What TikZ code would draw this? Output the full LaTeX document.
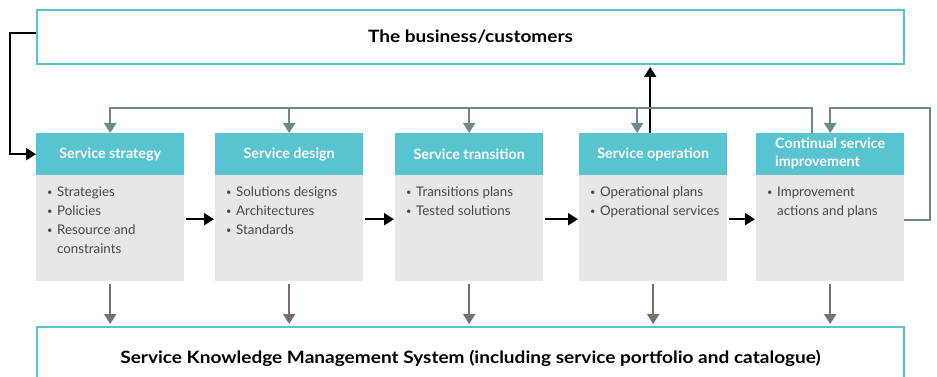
\documentclass[tikz,border=0pt]{standalone}
\usepackage{fontspec}
\setmainfont{Lato}
\usetikzlibrary{arrows.meta}
\definecolor{cyanb}{HTML}{58C4CF}
\definecolor{bodyg}{HTML}{E6E7E9}
\definecolor{fbcol}{HTML}{6F8A84}
\definecolor{dncol}{HTML}{77706A}
\definecolor{txtg}{HTML}{47474A}
\newcommand{\bul}{\makebox[10pt][l]{\raisebox{1pt}{\scalebox{0.7}{\textbullet}}}}
\newcommand{\ind}{\hspace*{10pt}}
\tikzset{
  frame/.style={draw=cyanb, line width=2pt, fill=white, anchor=north west, inner sep=0pt,
    minimum width=867pt, font=\bfseries\fontsize{17}{20}\selectfont\addfontfeature{FakeStretch=1.12}},
  head/.style={fill=cyanb, anchor=north west, minimum width=148pt, minimum height=42pt,
    inner sep=0pt, text=white, align=left, font=\bfseries\fontsize{14.3}{17}\selectfont},
  bodybox/.style={fill=bodyg, anchor=north west, minimum width=148pt, minimum height=106pt, inner sep=0pt},
  item/.style={anchor=north west, inner sep=0pt, align=left, text=txtg,
    font=\fontsize{13.3}{19}\selectfont},
  tip/.style={-{Triangle[length=10pt,width=12pt]}},
  fb/.style={draw=fbcol, line width=2pt},
  blk/.style={draw=black, line width=2pt, tip},
  dn/.style={draw=dncol, line width=2pt, tip},
}
\begin{document}
\begin{tikzpicture}[x=1pt,y=-1pt]
\useasboundingbox (0,0) rectangle (937,377);
\node[frame, minimum height=54pt] (biz) at (36,9) {The business/customers};
\node[frame, minimum height=62pt] (skm) at (36,326) {Service Knowledge Management System (including service portfolio and catalogue)};

\foreach \i/\x in {1/36,2/215,3/395,4/579,5/756}{
  \node[bodybox] (b\i) at (\x,175) {};
}
\node[head] (h1) at (36,133) {Service strategy};
\node[head] (h2) at (215,133) {Service design};
\node[head] (h3) at (395,133) {Service transition};
\node[head] (h4) at (579,133) {Service operation};
\node[head] (h5) at (756,133) {\begin{tabular}{@{}l@{}}Continual service\\[1pt] improvement\end{tabular}};

\node[item] (t1) at ([xshift=11pt,yshift=-12pt]b1.north west) {\bul Strategies\\ \bul Policies\\ \bul Resource and\\ \ind constraints};
\node[item] (t2) at ([xshift=11pt,yshift=-12pt]b2.north west) {\bul Solutions designs\\ \bul Architectures\\ \bul Standards};
\node[item] (t3) at ([xshift=11pt,yshift=-12pt]b3.north west) {\bul Transitions plans\\ \bul Tested solutions};
\node[item] (t4) at ([xshift=11pt,yshift=-12pt]b4.north west) {\bul Operational plans\\ \bul Operational services};
\node[item] (t5) at ([xshift=11pt,yshift=-12pt]b5.north west) {\bul Improvement\\ \ind actions and plans};

% horizontal black arrows
\foreach \a/\b in {1/2,2/3,3/4,4/5}{
  \draw[blk] ([xshift=2pt,yshift=9pt]b\a.east) -- ([xshift=-1pt,yshift=9pt]b\b.west);
}
% business -> strategy
\draw[blk] ([yshift=4pt]biz.west) -- ++(-26,0) |- (h1.west);
% operation -> business
\coordinate (up) at ([xshift=-3pt]h4.north);
\draw[blk] (up) -- ([yshift=-2pt]up |- biz.south);

% feedback from CSI
\draw[fb, tip] ([xshift=-18pt]h5.north) |- ([yshift=25pt]h1.north) -- (h1.north);
\draw[fb, tip] ([yshift=25pt]h2.north) -- (h2.north);
\draw[fb, tip] ([yshift=25pt]h3.north) -- (h3.north);
\coordinate (f4) at ([xshift=-16pt]h4.north);
\draw[fb, tip] ([yshift=25pt]f4) -- (f4);
\draw[fb, tip] ([yshift=8pt]b5.east) -- ++(26,0) |- ([yshift=25pt]h5.north) -- (h5.north);

% down to SKMS
\foreach \i in {1,...,5}{
  \draw[dn] ([yshift=-3pt]b\i.south) -- ([yshift=2pt]b\i.south |- skm.north);
}
\end{tikzpicture}
\end{document}
